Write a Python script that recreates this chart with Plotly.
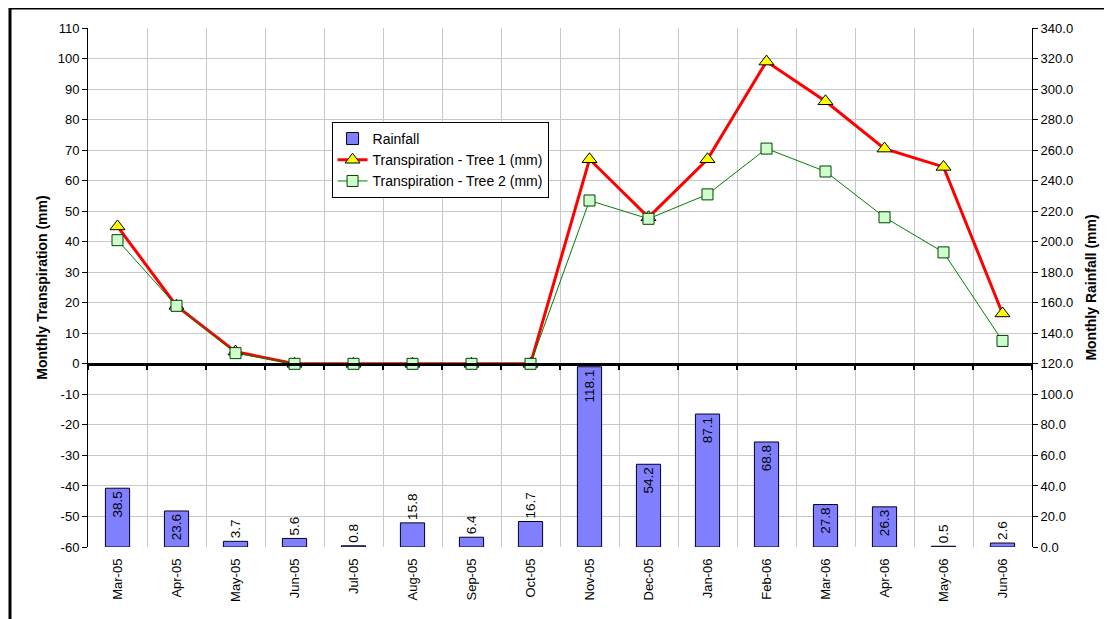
import plotly.graph_objects as go

months = ["Mar-05", "Apr-05", "May-05", "Jun-05", "Jul-05", "Aug-05", "Sep-05", "Oct-05",
          "Nov-05", "Dec-05", "Jan-06", "Feb-06", "Mar-06", "Apr-06", "May-06", "Jun-06"]
rainfall = [38.5, 23.6, 3.7, 5.6, 0.8, 15.8, 6.4, 16.7, 118.1, 54.2, 87.1, 68.8, 27.8, 26.3, 0.5, 2.6]
tree1 = [45, 19, 4, 0, 0, 0, 0, 0, 67, 48, 67, 99, 86, 70.5, 64.5, 16.5]
tree2 = [40.5, 19, 3.5, 0, 0, 0, 0, 0, 53.5, 47.5, 55.5, 70.5, 63, 48, 36.5, 7.5]
left_ticks = list(range(-60, 111, 10))
left_ticktext = [str(v) for v in left_ticks]  # plain hyphen minus, as in the original

FONT = "Liberation Sans, Arial, sans-serif"
GRID = "#C8C8C8"

positions = ["inside" if v > 20 else "outside" for v in rainfall]

fig = go.Figure()
fig.add_trace(go.Bar(
    x=months, y=rainfall, name="Rainfall", xaxis="x", yaxis="y2",
    marker=dict(color="#8080FF", line=dict(color="#000020", width=1)),
    width=0.41,
    text=[f"{v:.1f}" for v in rainfall], textposition=positions,
    textangle=-90, insidetextanchor="end", constraintext="none", cliponaxis=False,
    textfont=dict(family=FONT, size=13.5, color="black"),
))
fig.add_trace(go.Scatter(
    x=months, y=tree1, name="Transpiration - Tree 1 (mm)", xaxis="x", yaxis="y",
    mode="lines+markers", line=dict(color="#FF0000", width=3),
    marker=dict(symbol="triangle-up", size=13, color="#FFFF00", line=dict(color="black", width=1)),
))
fig.add_trace(go.Scatter(
    x=months, y=tree2, name="Transpiration - Tree 2 (mm)", xaxis="x", yaxis="y",
    mode="lines+markers", line=dict(color="#008000", width=1),
    marker=dict(symbol="square", size=11, color="#CCFFCC", line=dict(color="#004000", width=1)),
))
# invisible helper trace so the zero-crossing category axis gets its boundary ticks
fig.add_trace(go.Scatter(
    x=months, y=[0] * len(months), xaxis="x2", yaxis="y", mode="markers",
    marker=dict(opacity=0, size=1), showlegend=False, hoverinfo="skip",
))

ymin, ymax = -60, 110
OFF = 8  # page body margin
fig.update_layout(
    width=1112 - OFF, height=619 - OFF,
    margin=dict(l=88 - OFF, r=80, t=28 - OFF, b=72, autoexpand=False),
    paper_bgcolor="white", plot_bgcolor="white",
    font=dict(family=FONT, size=13, color="black"),
    showlegend=True,
    legend=dict(x=0.258, y=0.819, xanchor="left", yanchor="top",
                bgcolor="white", bordercolor="black", borderwidth=1,
                font=dict(family=FONT, size=14), tracegroupgap=0, itemwidth=30),
    xaxis=dict(type="category", categoryorder="array", categoryarray=months,
               range=[-0.5, 15.5], showgrid=True, gridcolor=GRID, gridwidth=1,
               tickson="boundaries", ticks="", tickangle=-90, showline=False,
               ticklabelstandoff=8,
               zeroline=False, tickfont=dict(size=13), automargin=False),
    xaxis2=dict(type="category", categoryorder="array", categoryarray=months,
                range=[-0.5, 15.5], overlaying="x", anchor="free",
                position=(0 - ymin) / (ymax - ymin),
                showgrid=False, showticklabels=False, tickson="boundaries",
                ticks="outside", ticklen=4, tickwidth=2, tickcolor="black",
                showline=True, linecolor="black", linewidth=3, zeroline=False),
    yaxis=dict(range=[ymin, ymax], tickmode="array", tickvals=left_ticks, ticktext=left_ticktext,
               showgrid=True, gridcolor=GRID,
               showline=True, linecolor="black", linewidth=1, ticks="outside",
               ticklen=5, tickcolor="black", zeroline=False, automargin=False,
               title=dict(text="<b>Monthly Transpiration (mm)</b>", font=dict(size=14), standoff=6),
               tickfont=dict(size=13)),
    yaxis2=dict(range=[0, 340], dtick=20, tickformat=".1f", overlaying="y", side="right",
                anchor="x", showgrid=False, showline=True, linecolor="black", linewidth=1,
                ticks="outside", ticklen=5, tickcolor="black", zeroline=False, automargin=False,
                title=dict(text="<b>Monthly Rainfall (mm)</b>", font=dict(size=14), standoff=14),
                tickfont=dict(size=13)),
    shapes=[dict(type="rect", xref="paper", yref="paper",
                 x0=(10 - 88) / 944, x1=(1130 - 88) / 944,
                 y0=(547 - 640) / 519, y1=(547 - 8) / 519,
                 line=dict(color="black", width=3), fillcolor="rgba(0,0,0,0)", layer="below")],
)

fig.write_html("out.html")
